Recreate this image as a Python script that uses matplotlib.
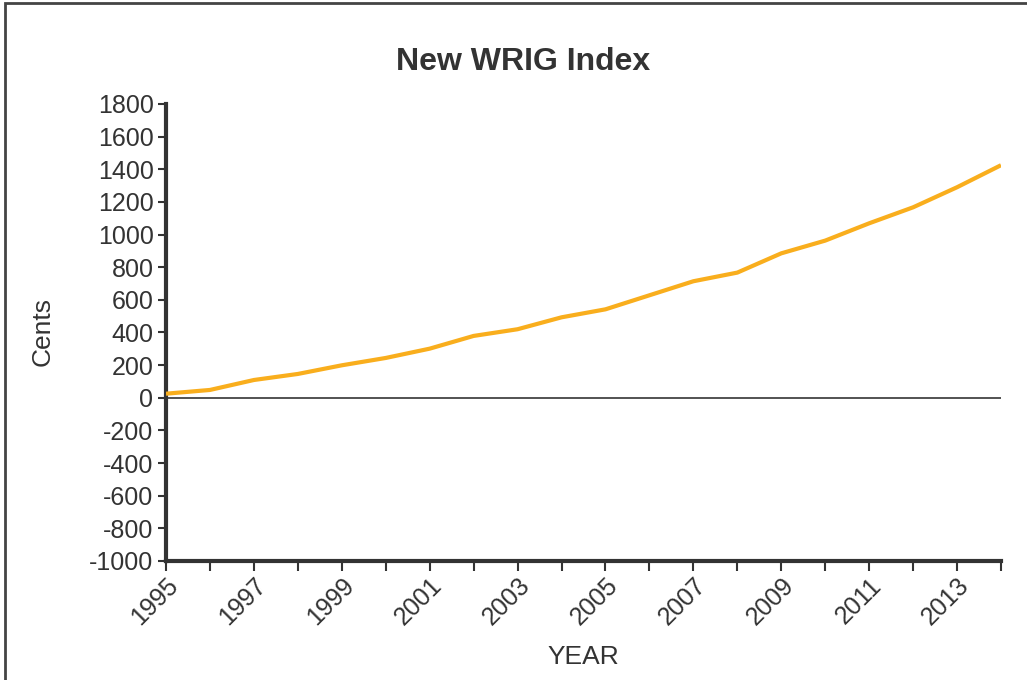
import matplotlib
matplotlib.use("Agg")
import matplotlib.pyplot as plt
from matplotlib.patches import Rectangle

years = list(range(1995, 2015))
cents = [25, 48, 109, 146, 199, 244, 301, 379, 420, 493, 542, 628, 714, 767,
         885, 963, 1069, 1167, 1290, 1425]
y_ticks = list(range(-1000, 1801, 200))
x_label_years = list(range(1995, 2014, 2))

plt.rcParams['font.family'] = ['Liberation Sans', 'DejaVu Sans']
dark = '#333333'

fig = plt.figure(figsize=(10.27, 6.80), dpi=100)
ax = fig.add_axes([166/1027, 1-561/680, (1001-166)/1027, (561-104)/680])

ax.plot(years, cents, color='#F9AE1D', lw=3.0, solid_capstyle='butt', zorder=3)
ax.axhline(0, color='#444444', lw=1.3, zorder=2)

ax.set_xlim(1995, 2014)
ax.set_ylim(-1000, 1800)
ax.set_yticks(y_ticks)
ax.set_yticklabels([str(v) for v in y_ticks])
ax.set_xticks(years)
ax.set_xticklabels([str(y) if y in x_label_years else '' for y in years],
                   rotation=45, ha='right', va='top', rotation_mode='anchor')

for s in ['top', 'right']:
    ax.spines[s].set_visible(False)
for s in ['left', 'bottom']:
    ax.spines[s].set_linewidth(3)
    ax.spines[s].set_color(dark)
ax.tick_params(axis='y', length=6, width=1.5, color=dark, labelsize=18,
               labelcolor=dark, pad=3)
ax.tick_params(axis='x', length=7, width=1.5, color=dark, labelsize=18,
               labelcolor=dark, pad=2)

fig.text(43/1027, 1-332/680, 'Cents', rotation=90, ha='center', va='center',
         fontsize=19, color=dark)
fig.text(583/1027, 1-657/680, 'YEAR', ha='center', va='center',
         fontsize=19, color=dark)
fig.text(523/1027, 1-62/680, 'New WRIG Index', ha='center', va='center',
         fontsize=23, fontweight='bold', color=dark)

fig.patches.append(Rectangle((5/1027, -0.1), 1.2, 1 - 3/680 + 0.1,
                             transform=fig.transFigure, fill=False,
                             edgecolor='#444444', lw=2))

fig.savefig('out.png', dpi=100)
